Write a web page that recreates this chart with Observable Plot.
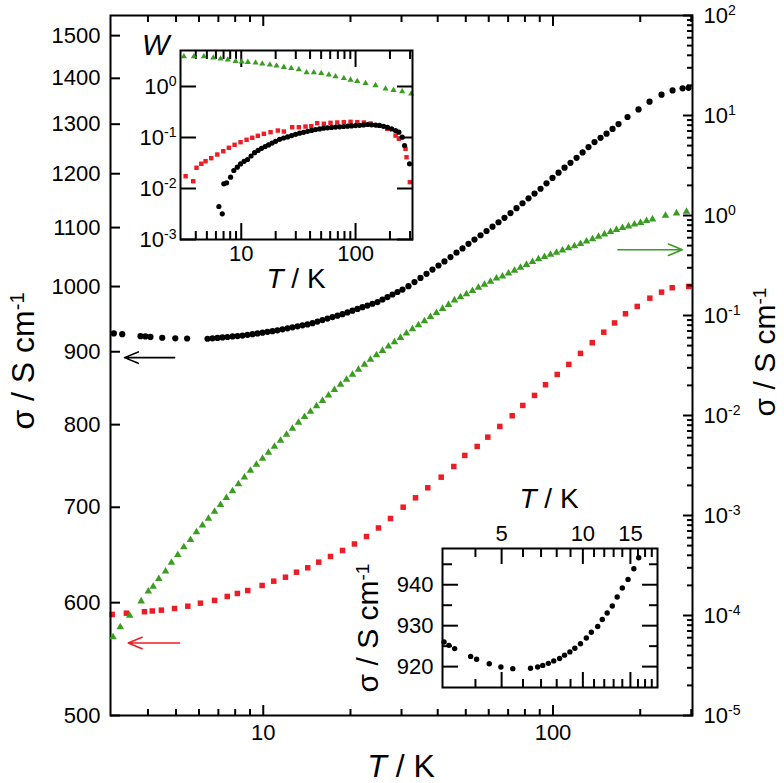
<!DOCTYPE html>
<html><head><meta charset="utf-8">
<script src="https://cdn.jsdelivr.net/npm/d3@7"></script>
<script src="https://cdn.jsdelivr.net/npm/@observablehq/plot@0.6"></script>
<style>
body{margin:0;background:#fff;}
#wrap{position:relative;width:784px;height:783px;overflow:hidden;background:#fff;}
</style></head><body><div id="wrap"></div>
<script>
// ---------- main plot: black circles (left axis, sigma / S cm^-1) ----------
const mainBlackT = [3.05, 3.26, 3.77, 3.92, 4.08, 4.48, 4.97, 5.46,
  6.42, 6.68, 6.95, 7.23, 7.52, 7.83, 8.15, 8.48, 8.82, 9.18, 9.55, 9.94, 10.34, 10.76, 11.19, 11.65, 12.12, 12.61, 13.13, 13.66,
  14.21, 14.79, 15.39, 16.01, 16.66, 17.34, 18.04, 18.77, 19.53, 20.32, 21.15, 22.0, 22.89, 23.82, 24.79, 25.79, 26.84, 27.93, 29.06, 30.24,
  31.71, 33.26, 34.88, 36.59, 38.37, 40.25, 42.21, 44.28, 46.44, 48.71, 51.09, 53.58, 56.21, 58.95, 61.83, 64.85, 68.01, 71.34, 74.82, 78.48,
  82.32, 86.35, 90.56, 94.97, 99.6, 104.5, 109.6, 114.9, 120.6, 126.5, 132.6, 139.1, 145.9, 153.0, 160.5, 168.3,
  180.8, 197.3, 215.4, 236.9, 258.6, 280, 293.7];
const mainBlackS = [927, 926, 923, 922.5, 921.8, 920.6, 919.8, 919.5,
  919.1, 919.8, 920.4, 921.1, 921.7, 922.5, 923.1, 923.8, 924.9, 925.9, 927.1, 928.2, 929.4, 930.4, 931.7, 933.2, 934.7, 936.2, 937.7, 939.2,
  940.7, 942.6, 944.9, 947.2, 949.5, 951.8, 954.1, 956.4, 959.0, 961.7, 964.5, 967.2, 969.8, 972.6, 975.3, 979.3, 983.2, 987.2, 991.2, 995.2,
  1000.6, 1007.2, 1014.1, 1020.8, 1027.8, 1034.6, 1041.5, 1048.8, 1056.3, 1063.6, 1071.4, 1078.9, 1086.4, 1093.9, 1101.6, 1109.5, 1117.4, 1126.1, 1135.1, 1144.1,
  1153.2, 1162.2, 1171.2, 1181.5, 1191.9, 1202.1, 1211.7, 1221.3, 1231.2, 1242.0, 1252.9, 1262.9, 1271.7, 1280.3, 1290.1, 1300.2,
  1315.2, 1331.4, 1348.1, 1363.4, 1372.9, 1377.6, 1378.7];
// ---------- main plot: red squares (left axis) ----------
const mainRedT = [3.01, 3.37, 3.89, 4.14, 4.45, 4.94, 5.49, 6.07, 6.79, 7.51, 8.14, 8.84, 9.91, 10.87, 11.93, 13.02, 14.24, 15.54, 17.06, 18.77,
  20.64, 22.71, 24.98, 27.48, 30.4, 33.53, 36.97, 41.13, 45.46, 49.61, 54.74, 59.56, 65.53, 72.31, 78.66, 86.33, 94.2, 103.4, 113.4, 124.4,
  136.6, 149.7, 163.1, 177.9, 195.3, 215.9, 236.9, 257.9, 294];
const mainRedS = [588.7, 589.9, 591.3, 592.0, 592.8, 594.4, 596.6, 599.5, 602.2, 606.1, 609.0, 611.9, 616.9, 621.2, 625.2, 630.3, 634.8, 640.6, 646.5, 652.8,
  659.7, 667.7, 677.0, 687.4, 700.1, 710.8, 722.4, 734.9, 747.7, 761.2, 772.3, 784.0, 797.7, 811.6, 825.2, 838.7, 853.3, 867.6, 881.8, 897.6,
  913.2, 928.9, 942.9, 957.0, 968.4, 981.4, 991.0, 998.1, 1000.2];
// ---------- main plot: green triangles (right axis) ----------
const mainGreenT = [3.03, 3.21, 3.46, 3.79, 4.01, 4.17, 4.36, 4.6, 4.82, 5.07, 5.32, 5.61, 5.88,
  6.17, 6.47, 6.79, 7.12, 7.46, 7.83, 8.21, 8.61, 9.03, 9.47, 9.94, 10.42, 10.93, 11.47, 12.03, 12.61, 13.23, 13.88, 14.55, 15.27,
  16.01, 16.8, 17.61, 18.48, 19.38, 20.32, 21.31, 22.36, 23.44, 24.59, 25.79, 27.05, 28.37, 29.75, 31.21, 32.73, 34.33, 36.0, 37.77, 39.61,
  41.56, 43.58, 45.71, 47.94, 50.28, 52.73, 55.31, 58.0, 60.84, 63.81, 66.94, 70.2, 73.63, 77.23, 81.0, 84.96, 89.11, 93.45, 98.0, 102.8,
  107.8, 113.1, 118.6, 124.4, 130.5, 136.9, 143.6, 150.5, 157.9, 165.6, 173.7, 182.2, 191.1, 200.5, 210.3, 220.5,
  244.5, 266.8, 288.9];
const mainGreenS = [6.07e-5, 7.64e-5, 1.0e-4, 1.39e-4, 1.74e-4, 1.95e-4, 2.33e-4, 2.77e-4, 3.39e-4, 4.05e-4, 4.82e-4, 5.71e-4, 6.81e-4,
  7.98e-4, 9.33e-4, 1.094e-3, 1.279e-3, 1.5e-3, 1.758e-3, 2.056e-3, 2.404e-3, 2.818e-3, 3.236e-3, 3.715e-3, 4.266e-3, 4.898e-3, 5.623e-3, 6.457e-3, 7.413e-3, 8.511e-3, 9.68e-3, 1.096e-2, 1.242e-2,
  1.406e-2, 1.592e-2, 1.803e-2, 2.042e-2, 2.291e-2, 2.57e-2, 2.884e-2, 3.236e-2, 3.631e-2, 4.018e-2, 4.446e-2, 4.909e-2, 5.433e-2, 5.998e-2, 6.637e-2, 7.311e-2, 8.017e-2, 8.81e-2, 9.683e-2, 0.1064,
  0.1169, 0.1282, 0.1422, 0.1528, 0.1641, 0.1762, 0.1897, 0.2037, 0.2188, 0.235, 0.2466, 0.2636, 0.2818, 0.3013, 0.3221, 0.3436, 0.3673, 0.3864, 0.4064, 0.4266,
  0.4487, 0.471, 0.4955, 0.5212, 0.5508, 0.5821, 0.6152, 0.6501, 0.6871, 0.7211, 0.7516, 0.7816, 0.8147, 0.8472, 0.8831, 0.9183,
  1.0, 1.054, 1.096];
// ---------- arrows (which axis each series uses) ----------
const arrowBlack = [{x1: 4.94, y1: 891.5, x2: 3.32, y2: 891.5}];
const arrowRed = [{x1: 5.14, y1: 562.2, x2: 3.42, y2: 562.2}];
const arrowGreen = [{x1: 167.4, y1: 0.454, x2: 279.3, y2: 0.454}];
// ---------- upper inset: W vs T ----------
const wGreenT = [3.15, 3.85, 4.71, 5.69, 6.59, 7.63, 8.92, 10.1, 11.42, 13.34, 15.27, 17.79, 20.36, 23.59, 27.38, 31.9, 37.27, 43.17, 50.12, 58.4, 66.8, 79.0, 90.4, 103.5, 122.4, 149.6, 183, 215, 256, 307];
const wGreenW = [3.87, 3.87, 3.87, 3.65, 3.49, 3.34, 3.13, 3.06, 3.0, 2.92, 2.79, 2.66, 2.55, 2.39, 2.28, 2.15, 1.88, 1.88, 1.82, 1.70, 1.57, 1.45, 1.35, 1.27, 1.16, 1.05, 0.90, 0.85, 0.80, 0.72];
const wRedT = [3.26, 3.8, 4.06, 4.47, 4.87, 5.46, 6.17, 6.96, 7.79, 8.74, 9.86, 11.13, 12.48, 13.97, 15.77, 18.05, 20.9, 23.6, 27.9, 31.9, 36.5, 41.0, 46.2, 52.8, 60.4, 69.2, 79.0, 90.4, 103.5, 118.2, 135.3, 159, 189.3, 223.9, 239.3, 273.8, 279.3, 298.5];
const wRedW = [0.0174, 0.0139, 0.0255, 0.0305, 0.0343, 0.0393, 0.0464, 0.0539, 0.0628, 0.0719, 0.0809, 0.0902, 0.0987, 0.108, 0.118, 0.127, 0.137, 0.131, 0.159, 0.159, 0.164, 0.167, 0.191, 0.186, 0.194, 0.197, 0.2, 0.203, 0.2, 0.197, 0.188, 0.172, 0.148, 0.109, 0.0943, 0.06, 0.0411, 0.0133];
const wBlackT = [6.37, 6.82, 7.04, 7.44, 8.06, 8.61, 9.23, 9.86, 10.58, 11.35, 12.18, 13.08, 14.03, 15.05, 16.16, 17.33, 18.6, 19.95, 21.63, 23.45, 25.42, 27.55, 29.87, 32.37, 35.09, 38.04, 41.23, 44.67, 48.42, 52.48, 56.89, 61.66, 66.83, 72.44, 78.52, 85.11, 92.26, 100, 108.4, 117.5, 127.4, 138.0, 149.6, 162.2, 175.8, 190.5, 206.5, 223.9, 239.3, 256.2, 268.4, 296.8];
const wBlackW = [0.00444, 0.00319, 0.01236, 0.01294, 0.01667, 0.02254, 0.02618, 0.03036, 0.03412, 0.03707, 0.04339, 0.05035, 0.05585, 0.06141, 0.06637, 0.07161, 0.07762, 0.08417, 0.09226, 0.09772, 0.1028, 0.1089, 0.1156, 0.1214, 0.1265, 0.1324, 0.1377, 0.1435, 0.1476, 0.1522, 0.1549, 0.1578, 0.16, 0.1622, 0.1644, 0.1667, 0.1687, 0.171, 0.1734, 0.1766, 0.1799, 0.1774, 0.175, 0.1726, 0.1659, 0.1585, 0.1476, 0.1365, 0.127, 0.1014, 0.0697, 0.0305];
// ---------- lower inset: low-T black data ----------
const lowT = [3.06, 3.19, 3.35, 3.84, 4.04, 4.5, 4.97, 5.5, 6.4, 6.8, 7.1, 7.45, 7.8, 8.2, 8.55, 8.95, 9.34, 9.8, 10.3, 10.75, 11.35, 11.8, 12.3, 12.85, 13.4, 14.0, 14.7, 15.45, 16.1];
const lowS = [926.0, 925.2, 924.4, 922.5, 921.8, 920.7, 919.9, 919.5, 919.6, 919.9, 920.3, 920.8, 921.4, 922.0, 922.8, 923.6, 924.5, 925.6, 927.0, 928.4, 929.8, 931.5, 933.1, 934.8, 937.0, 939.2, 941.3, 943.9, 946.6];
// ---------- tick values ----------
const leftTicks = [500, 600, 700, 800, 900, 1000, 1100, 1200, 1300, 1400, 1500];
const rightTicks = [1e-5, 1e-4, 1e-3, 1e-2, 1e-1, 1, 10, 100];
const rightMinor = [-5, -4, -3, -2, -1, 0, 1].flatMap(e => [2,3,4,5,6,7,8,9].map(k => k * Math.pow(10, e)));
const xMajor = [10, 100];
const xMinorMain = [4, 5, 6, 7, 8, 9, 20, 30, 40, 50, 60, 70, 80, 90, 200, 300];
const xMinorInset = [4, 5, 6, 7, 8, 9, 20, 30, 40, 50, 60, 70, 80, 90, 200, 300];
const wTicks = [1e-3, 1e-2, 1e-1, 1];
const lowXMajor = [5, 10, 15];
const lowXMinor = [4, 6, 7, 8, 9, 11, 12, 13, 14, 16, 17, 18];
const lowYMajor = [920, 930, 940];
const lowYMinor = [925, 935, 945];

const FONT = '"Liberation Sans", Arial, Helvetica, sans-serif';
const RED = "#ee1c25", GREEN = "#3b9c22";
const zip = (a, b) => a.map((v, i) => ({x: v, y: b[i]}));
const sup = d => "10|" + Math.round(Math.log10(d));
const style = {fontFamily: FONT, background: "transparent", overflow: "visible", color: "black"};
const wrap = document.getElementById("wrap");

function supify(svg) {
  const ns = "http://www.w3.org/2000/svg";
  svg.querySelectorAll("text").forEach(t => {
    const s = t.textContent;
    if (s.includes("|")) {
      const [base, exp] = s.split("|");
      t.textContent = "";
      const a = document.createElementNS(ns, "tspan"); a.textContent = base;
      const b = document.createElementNS(ns, "tspan"); b.textContent = exp;
      b.setAttribute("dy", "-0.55em"); b.setAttribute("font-size", "0.64em");
      t.append(a, b);
    }
  });
}
function place(svg, left, top) {
  svg.style.position = "absolute"; svg.style.left = left + "px"; svg.style.top = top + "px";
  supify(svg); wrap.appendChild(svg);
}

// ---------- main (left axis) ----------
const main = Plot.plot({
  width: 784, height: 783, marginLeft: 110, marginRight: 92, marginTop: 15, marginBottom: 68,
  style,
  x: {type: "log", domain: [2.97, 303]},
  y: {type: "log", domain: [500, 1549.6]},
  marks: [
    Plot.axisY(leftTicks, {anchor: "left", tickSize: 0, tickPadding: 10, fontSize: 22, tickFormat: d => String(d), label: null}),
    Plot.axisY(leftTicks, {anchor: "left", tickSize: -10, text: null, strokeWidth: 2, label: null}),
    Plot.axisX(xMajor, {anchor: "bottom", tickSize: 0, tickPadding: 9, fontSize: 22, tickFormat: d => String(d), label: null}),
    Plot.axisX(xMajor, {anchor: "bottom", tickSize: -10, text: null, strokeWidth: 2, label: null}),
    Plot.axisX(xMinorMain, {anchor: "bottom", tickSize: -6, text: null, strokeWidth: 2, label: null}),
    Plot.axisX(xMajor, {anchor: "top", tickSize: -10, text: null, strokeWidth: 2, label: null}),
    Plot.axisX(xMinorMain, {anchor: "top", tickSize: -6, text: null, strokeWidth: 2, label: null}),
    Plot.dot(zip(mainRedT, mainRedS), {x: "x", y: "y", symbol: "square", r: 3.1, fill: RED}),
    Plot.dot(zip(mainBlackT, mainBlackS), {x: "x", y: "y", symbol: "circle", r: 3.1, fill: "black"}),
    Plot.arrow(arrowBlack, {x1: "x1", y1: "y1", x2: "x2", y2: "y2", stroke: "black", strokeWidth: 1.6, headLength: 14, headAngle: 45}),
    Plot.arrow(arrowRed, {x1: "x1", y1: "y1", x2: "x2", y2: "y2", stroke: RED, strokeWidth: 1.6, headLength: 14, headAngle: 45}),
    Plot.frame({strokeWidth: 2})
  ]
});
place(main, 0, 0);

// ---------- main (right axis) ----------
const right = Plot.plot({
  width: 784, height: 783, marginLeft: 110, marginRight: 92, marginTop: 15, marginBottom: 68,
  style,
  x: {type: "log", domain: [2.97, 303], axis: null},
  y: {type: "log", domain: [1e-5, 100]},
  marks: [
    Plot.axisY(rightTicks, {anchor: "right", tickSize: 0, tickPadding: 11, fontSize: 22, tickFormat: sup, label: null}),
    Plot.axisY(rightTicks, {anchor: "right", tickSize: -10, text: null, strokeWidth: 2, label: null}),
    Plot.axisY(rightMinor, {anchor: "right", tickSize: -6, text: null, strokeWidth: 2, label: null}),
    Plot.dot(zip(mainGreenT, mainGreenS), {x: "x", y: "y", symbol: "triangle", r: 2.8, fill: GREEN}),
    Plot.arrow(arrowGreen, {x1: "x1", y1: "y1", x2: "x2", y2: "y2", stroke: GREEN, strokeWidth: 1.6, headLength: 14, headAngle: 45})
  ]
});
place(right, 0, 0);

// ---------- inset W ----------
const inset1 = Plot.plot({
  width: 330, height: 300, marginLeft: 80, marginRight: 18, marginTop: 50, marginBottom: 61,
  style,
  x: {type: "log", domain: [2.94, 315]},
  y: {type: "log", domain: [1e-3, 5.08]},
  marks: [
    Plot.axisY(wTicks, {anchor: "left", tickSize: 0, tickPadding: 4, fontSize: 22, tickFormat: sup, label: null}),
    Plot.axisY(wTicks, {anchor: "left", tickSize: -16, text: null, strokeWidth: 2, label: null}),
    Plot.axisY(wTicks, {anchor: "right", tickSize: -16, text: null, strokeWidth: 2, label: null}),
    Plot.axisX(xMajor, {anchor: "bottom", tickSize: 0, tickPadding: 6, fontSize: 22, tickFormat: d => String(d), label: null}),
    Plot.axisX(xMajor, {anchor: "bottom", tickSize: -16, text: null, strokeWidth: 2, label: null}),
    Plot.axisX(xMinorInset, {anchor: "bottom", tickSize: -8, text: null, strokeWidth: 2, label: null}),
    Plot.axisX(xMajor, {anchor: "top", tickSize: -16, text: null, strokeWidth: 2, label: null}),
    Plot.axisX(xMinorInset, {anchor: "top", tickSize: -8, text: null, strokeWidth: 2, label: null}),
    Plot.dot(zip(wGreenT, wGreenW), {x: "x", y: "y", symbol: "triangle", r: 2.3, fill: GREEN}),
    Plot.dot(zip(wRedT, wRedW), {x: "x", y: "y", symbol: "square", r: 2.5, fill: RED}),
    Plot.dot(zip(wBlackT, wBlackW), {x: "x", y: "y", symbol: "circle", r: 2.6, fill: "black"}),
    Plot.frame({strokeWidth: 2})
  ]
});
place(inset1, 100, 0);

// ---------- inset low T ----------
const inset2 = Plot.plot({
  width: 340, height: 240, marginLeft: 102, marginRight: 23, marginTop: 78, marginBottom: 23,
  style,
  x: {type: "log", domain: [3.02, 18.9]},
  y: {domain: [914.9, 948.85]},
  marks: [
    Plot.axisY(lowYMajor, {anchor: "left", tickSize: 0, tickPadding: 9, fontSize: 22, tickFormat: d => String(d), label: null}),
    Plot.axisY(lowYMajor, {anchor: "left", tickSize: -16, text: null, strokeWidth: 2, label: null}),
    Plot.axisY(lowYMinor, {anchor: "left", tickSize: -10, text: null, strokeWidth: 2, label: null}),
    Plot.axisY(lowYMajor, {anchor: "right", tickSize: -16, text: null, strokeWidth: 2, label: null}),
    Plot.axisY(lowYMinor, {anchor: "right", tickSize: -9, text: null, strokeWidth: 2, label: null}),
    Plot.text(lowXMajor, {x: d => d, text: d => String(d), frameAnchor: "top", lineAnchor: "bottom", dy: -8, fontSize: 22, fill: "black"}),
    Plot.axisX(lowXMajor, {anchor: "top", tickSize: -15, text: null, strokeWidth: 2, label: null}),
    Plot.axisX(lowXMinor, {anchor: "top", tickSize: -8, text: null, strokeWidth: 2, label: null}),
    Plot.axisX(lowXMajor, {anchor: "bottom", tickSize: -15, text: null, strokeWidth: 2, label: null}),
    Plot.axisX(lowXMinor, {anchor: "bottom", tickSize: -8, text: null, strokeWidth: 2, label: null}),
    Plot.dot(zip(lowT, lowS), {x: "x", y: "y", symbol: "circle", r: 2.7, fill: "black"}),
    Plot.frame({strokeWidth: 2})
  ]
});
place(inset2, 340, 470);

// ---------- axis titles ----------
const ov = d3.create("svg").attr("width", 784).attr("height", 783).attr("font-family", FONT)
  .style("position", "absolute").style("left", "0px").style("top", "0px").style("overflow", "visible");
function addText(x, y, size, parts, rotate, anchor) {
  const t = ov.append("text").attr("transform", `translate(${x},${y})` + (rotate ? ` rotate(${rotate})` : ""))
    .attr("text-anchor", anchor || "middle").attr("font-size", size).attr("fill", "black");
  for (const p of parts) {
    const s = t.append("tspan").text(p.t);
    if (p.it) s.attr("font-style", "italic");
    if (p.sup) s.attr("dy", "-0.5em").attr("font-size", Math.round(size * 0.62));
  }
}
const sigmaLabel = [{t: "σ / S cm"}, {t: "-1", sup: true}];
const tkLabel = [{t: "T", it: true}, {t: " / K"}];
addText(401, 777, 32, tkLabel);
addText(34, 361, 32, sigmaLabel, -90);
addText(775, 352, 30, sigmaLabel, -90);
addText(142, 55, 29, [{t: "W", it: true}], 0, "start");
addText(296, 288, 28, tkLabel);
addText(549, 508, 28, tkLabel);
addText(378, 628, 30, sigmaLabel, -90);
wrap.appendChild(ov.node());
</script>
</body></html>
